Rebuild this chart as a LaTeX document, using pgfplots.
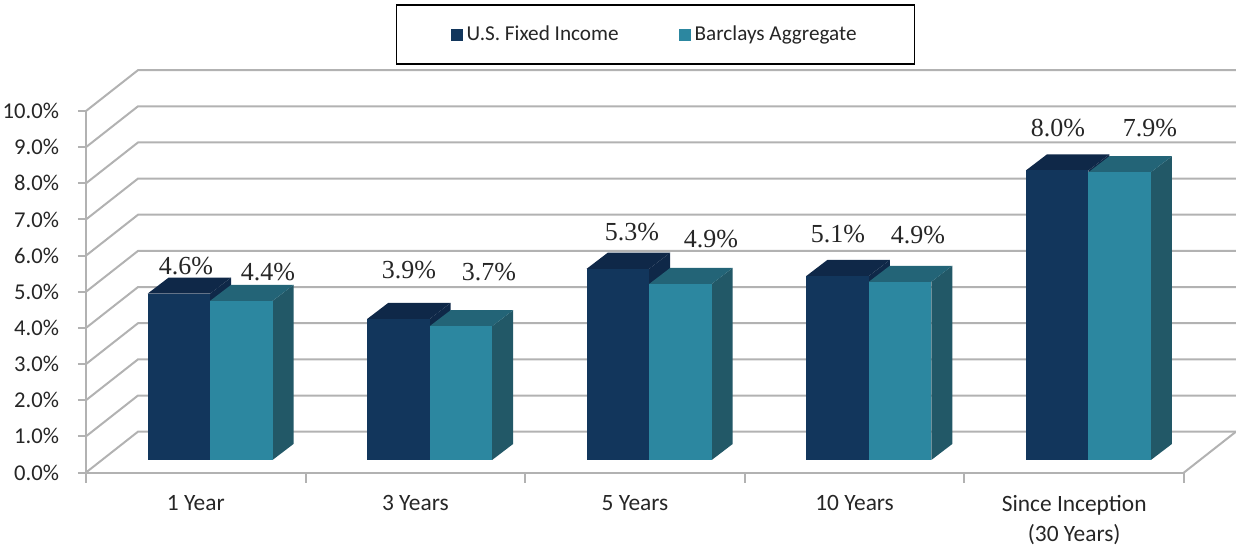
\documentclass[border=0pt]{standalone}
\usepackage{fontspec}
\setmainfont{Carlito}
\newfontfamily\serf{Liberation Serif}
\usepackage{pgfplots}
\pgfplotsset{compat=1.18}
\definecolor{gridc}{HTML}{B2B2B2}
\definecolor{darkF}{HTML}{12365C}
\definecolor{darkT}{HTML}{0F2848}
\definecolor{tealF}{HTML}{2C87A0}
\definecolor{tealT}{HTML}{236477}
\definecolor{tealS}{HTML}{225867}
\definecolor{txt}{HTML}{262626}
\newcommand{\solid}[5]{%
  \pgfmathsetmacro\xa{#1}%
  \pgfmathsetmacro\xb{#1+0.2846}%
  \pgfmathsetmacro\xc{#1+0.2846+0.0956}%
  \pgfmathsetmacro\xd{#1+0.0956}%
  \pgfmathsetmacro\yt{#2+0.346}%
  \pgfmathsetmacro\yu{#2+0.346+0.443}%
  \addplot[fill=#5,draw=none,forget plot] coordinates {(\xb,0.346)(\xc,0.789)(\xc,\yu)(\xb,\yt)} --cycle;
  \addplot[fill=#4,draw=none,forget plot] coordinates {(\xa,\yt)(\xb,\yt)(\xc,\yu)(\xd,\yu)} --cycle;
  \addplot[fill=#3,draw=none,forget plot] coordinates {(\xa,0.346)(\xb,0.346)(\xb,\yt)(\xa,\yt)} --cycle;
}
\newcommand{\grid}[2]{\addplot[gridc,line width=1pt,mark=none,forget plot] coordinates {(-0.5,#1)(-0.2632,#2)(4.7368,#2)};}
\begin{document}
\begin{tikzpicture}
\useasboundingbox (0,0) rectangle (618pt,273pt);
\begin{axis}[
  at={(43pt,36.75pt)},anchor=south west,
  scale only axis,width=549pt,height=180.75pt,
  clip=false,
  xmin=-0.5,xmax=4.5,ymin=0,ymax=10,
  axis lines=left,
  axis line style={gridc,line width=1pt,-},
  tick style={gridc,line width=1pt},
  tick align=outside,
  ytick={0,1,2,3,4,5,6,7,8,9,10},
  yticklabel={\pgfmathprintnumber[fixed,fixed zerofill,precision=1,assume math mode=true]{\tick}\%},
  yticklabel style={font=\fontsize{11.3}{13}\selectfont,text=txt,xshift=-6pt},
  major tick length=4pt,
  xtick={0,1,2,3,4},
  xticklabels={1 Year,3 Years,5 Years,10 Years,{Since Inception\\(30 Years)}},
  x tick style={draw=none},
  xticklabel style={font=\fontsize{11.7}{15}\selectfont,text=txt,align=center,yshift=-4pt},
  extra x ticks={-0.5,0.5,1.5,2.5,3.5,4.5},
  extra x tick labels={},
  extra x tick style={x tick style={draw=gridc,line width=1pt},tick style={draw=gridc,line width=1pt},major tick length=5pt},
  legend columns=2,
  legend style={at={(0.5187,1.2116)},anchor=center,draw=black,line width=0.9pt,
    inner xsep=27pt,inner ysep=8.5pt,font=\fontsize{10.6}{12}\selectfont,text=txt,
    /tikz/every even column/.append style={column sep=28pt}},
  legend cell align=left,
  legend image code/.code={\fill[#1,draw=none] (0pt,-3pt) rectangle (6pt,3pt);},
]
\addlegendimage{fill=darkF}
\addlegendentry{U.S. Fixed Income}
\addlegendimage{fill=tealF}
\addlegendentry{Barclays Aggregate}
\grid{0}{1.13}
\grid{1}{2.13}
\grid{2}{3.13}
\grid{3}{4.13}
\grid{4}{5.13}
\grid{5}{6.13}
\grid{6}{7.13}
\grid{7}{8.13}
\grid{8}{9.13}
\grid{9}{10.13}
\grid{10}{11.13}
\addplot[gridc,line width=1pt,mark=none,forget plot] coordinates {(4.5,0)(4.7368,1.13)};
\solid{-0.2199}{4.60}{darkF}{darkT}{darkT}
\solid{0.0647}{4.40}{tealF}{tealT}{tealS}
\solid{0.7801}{3.90}{darkF}{darkT}{darkT}
\solid{1.0647}{3.70}{tealF}{tealT}{tealS}
\solid{1.7801}{5.29}{darkF}{darkT}{darkT}
\solid{2.0647}{4.87}{tealF}{tealT}{tealS}
\solid{2.7801}{5.09}{darkF}{darkT}{darkT}
\solid{3.0647}{4.93}{tealF}{tealT}{tealS}
\solid{3.7801}{8.01}{darkF}{darkT}{darkT}
\solid{4.0647}{7.96}{tealF}{tealT}{tealS}
\begin{scope}[every node/.style={font=\serf\fontsize{13}{15}\selectfont,text=txt}]
\node at (axis cs:-0.0446,5.72) {4.6\%};
\node at (axis cs:0.3288,5.55) {4.4\%};
\node at (axis cs:0.9709,5.61) {3.9\%};
\node at (axis cs:1.3352,5.55) {3.7\%};
\node at (axis cs:1.9863,6.64) {5.3\%};
\node at (axis cs:2.3461,6.47) {4.9\%};
\node at (axis cs:2.9244,6.61) {5.1\%};
\node at (axis cs:3.2887,6.58) {4.9\%};
\node at (axis cs:3.9262,9.52) {8.0\%};
\node at (axis cs:4.3452,9.52) {7.9\%};
\end{scope}
\end{axis}
\end{tikzpicture}
\end{document}
